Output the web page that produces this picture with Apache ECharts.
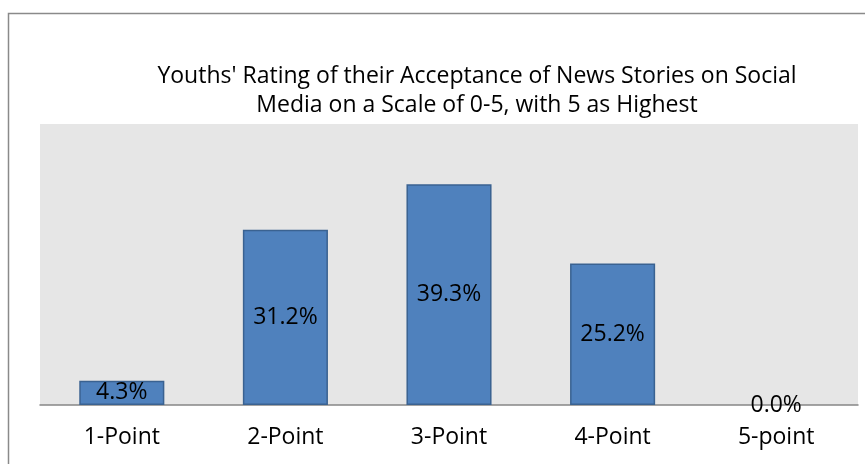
<!DOCTYPE html>
<html>
<head>
<meta charset="utf-8">
<script src="https://cdn.jsdelivr.net/npm/echarts@6.0.0/dist/echarts.min.js"></script>
<style>
  html, body { margin: 0; padding: 0; background: #fff; }
  #chart { width: 865px; height: 464px; }
</style>
</head>
<body>
<div id="chart"></div>
<script>
// 数据
var categories = ['1-Point', '2-Point', '3-Point', '4-Point', '5-point'];
var shares = [4.3, 31.2, 39.3, 25.2, 0.0];
var titleLines = [
    "Youths' Rating of their Acceptance of News Stories on Social",
    'Media on a Scale of 0-5, with 5 as Highest'
];

var FONT = '"Open Sans", "Noto Sans", sans-serif';
var chart = echarts.init(document.getElementById('chart'));

// 0 值的柱子不画边框
var barData = shares.map(function (v) {
    return v === 0 ? { value: v, itemStyle: { borderWidth: 0 } } : v;
});

chart.setOption({
    animation: false,
    backgroundColor: '#fff',
    title: {
        text: titleLines.join('\n'),
        left: 472,
        top: 57,
        textAlign: 'center',
        textStyle: { fontFamily: FONT, fontSize: 23, fontWeight: 'normal', color: '#000', lineHeight: 29 },
    },
    graphic: [{
        type: 'rect',
        shape: { x: 8.5, y: 13.5, width: 870, height: 470 },
        style: { fill: 'none', stroke: '#8a8a8a', lineWidth: 1.5 },
        z: 100,
    }],
    grid: {
        left: 40, right: 7, top: 124, bottom: 59,
        show: true, backgroundColor: '#e6e6e6', borderWidth: 0,
    },
    xAxis: {
        type: 'category',
        data: categories,
        axisLine: { lineStyle: { color: '#868686', width: 1.5 } },
        axisTick: { show: false },
        axisLabel: { fontFamily: FONT, fontSize: 23, color: '#000', margin: 21 },
    },
    yAxis: {
        type: 'value',
        min: 0, max: 50,
        show: false,
        splitLine: { show: false },
    },
    series: [{
        type: 'bar',
        data: barData,
        barWidth: '52%',
        itemStyle: { color: '#4f81bd', borderColor: '#3a6291', borderWidth: 1.5 },
        label: {
            show: true,
            position: 'inside',
            fontFamily: FONT, fontSize: 23, color: '#000',
            formatter: function (p) { return p.value.toFixed(1) + '%'; },
        },
    }],
});

window.addEventListener('resize', () => chart.resize());
</script>
</body>
</html>
